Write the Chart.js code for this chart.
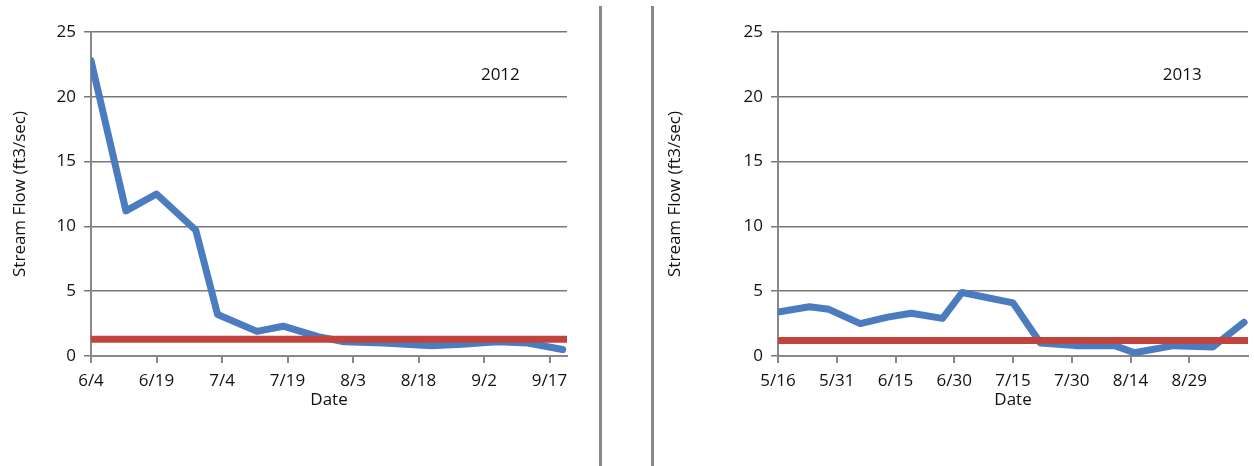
<!DOCTYPE html>
<html lang="en">
<head>
<meta charset="UTF-8">
<title>Stream Flow 2012 / 2013</title>
<style>
  body { margin: 0; background: #fff; width: 1254px; height: 466px; position: relative; overflow: hidden; }
  .box { position: absolute; top: 0; height: 466px; }
  #leftBox { left: 0; width: 600px; }
  #rightBox { left: 655px; width: 599px; }
  .divider { position: absolute; top: 6px; bottom: 0; width: 3px; background: #888; }
</style>
</head>
<body>
<div class="divider" style="left:599px"></div>
<div class="divider" style="left:651px"></div>
<div class="box" id="leftBox"><canvas id="chart2012"></canvas></div>
<div class="box" id="rightBox"><canvas id="chart2013"></canvas></div>

<script src="https://cdn.jsdelivr.net/npm/chart.js"></script>
<script>
// days after the first date shown on each axis
const days2012 = [0, 8, 15, 24, 29, 38, 44, 52, 58, 67, 78, 85, 93, 100, 108];
const flow2012 = [22.8, 11.2, 12.5, 9.7, 3.2, 1.9, 2.3, 1.5, 1.1, 1.0, 0.8, 0.9, 1.1, 1.0, 0.5];
const ticks2012 = ['6/4', '6/19', '7/4', '7/19', '8/3', '8/18', '9/2', '9/17'];
const base2012 = 1.3;

const days2013 = [0, 8, 13, 21, 28, 34, 42, 47, 60, 67, 76, 86, 91, 101, 111, 119];
const flow2013 = [3.4, 3.8, 3.6, 2.5, 3.0, 3.3, 2.9, 4.9, 4.1, 1.0, 0.8, 0.8, 0.25, 0.8, 0.7, 2.6];
const ticks2013 = ['5/16', '5/31', '6/15', '6/30', '7/15', '7/30', '8/14', '8/29'];
const base2013 = 1.2;

const FONT = '"Open Sans", sans-serif';
const SIZE = 17;
const font = { family: FONT, size: SIZE, weight: '500' };

function makeChart(id, days, flow, base, tickLabels, xMax, year, leftW, rightPad) {
  const yearLabel = {
    id: 'yearLabel',
    afterDraw(chart) {
      const c = chart.ctx;
      const x = chart.scales.x.getPixelForValue(xMax * 0.86);
      const y = chart.scales.y.getPixelForValue(21.7);
      c.save();
      c.font = '500 ' + SIZE + 'px ' + FONT;
      c.fillStyle = '#111';
      c.textAlign = 'center';
      c.textBaseline = 'middle';
      c.fillText(year, x, y);
      c.restore();
    }
  };
  return new Chart(document.getElementById(id), {
    type: 'line',
    data: {
      datasets: [
        {
          data: [{ x: 0, y: base }, { x: xMax, y: base }],
          borderColor: '#c0433c', borderWidth: 7, pointRadius: 0
        },
        {
          data: days.map((d, i) => ({ x: d, y: flow[i] })),
          borderColor: '#4a7cbf', borderWidth: 7, pointRadius: 0,
          borderJoinStyle: 'round', borderCapStyle: 'round'
        }
      ]
    },
    options: {
      responsive: true,
      maintainAspectRatio: false,
      animation: false,
      layout: { padding: { top: 32, right: rightPad, left: 10, bottom: 56 } },
      plugins: { legend: { display: false }, tooltip: { enabled: false } },
      scales: {
        x: {
          type: 'linear', min: 0, max: xMax,
          afterFit(s) { s.height = 54; },
          afterBuildTicks(s) { s.ticks = tickLabels.map((t, i) => ({ value: i * 15 })); },
          border: { color: '#888', width: 2 },
          grid: { drawOnChartArea: false, drawTicks: true, tickLength: 7, color: '#888', lineWidth: 2 },
          ticks: {
            autoSkip: false, maxRotation: 0, padding: 8,
            color: '#111', font,
            callback: v => tickLabels[Math.round(v / 15)] || ''
          },
          title: { display: true, text: 'Date', color: '#111', font, padding: 0 }
        },
        y: {
          min: 0, max: 25,
          afterFit(s) { s.width = leftW; },
          border: { color: '#888', width: 2 },
          grid: { color: '#777', lineWidth: 1.5, tickLength: 7 },
          ticks: { stepSize: 5, color: '#111', font, padding: 8 },
          title: { display: true, text: 'Stream Flow (ft3/sec)', color: '#111', font, padding: 0 }
        }
      }
    },
    plugins: [yearLabel]
  });
}

makeChart('chart2012', days2012, flow2012, base2012, ticks2012, 109, '2012', 81, 33);
makeChart('chart2013', days2013, flow2013, base2013, ticks2013, 120, '2013', 113, 6);
</script>
</body>
</html>
